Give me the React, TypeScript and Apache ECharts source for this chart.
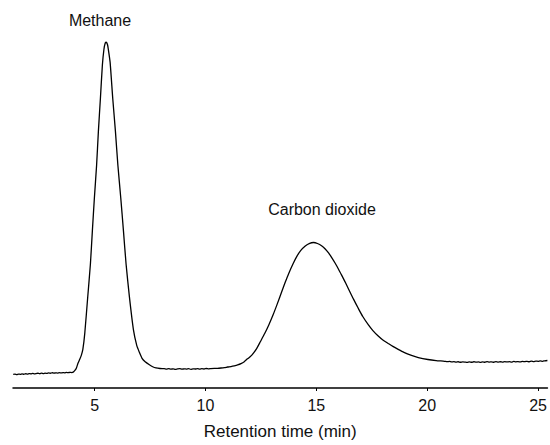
import React, { useEffect, useRef } from "react";
import * as echarts from "echarts";

// Retention time (min) and detector signal (arbitrary units)
const retentionTime: number[] = [
  1.33, 1.41, 1.49, 1.57, 1.65, 1.73, 1.81, 1.89, 1.97, 2.05, 2.13, 2.21, 2.29, 2.37, 2.45, 2.53, 2.61, 2.69,
  2.77, 2.85, 2.93, 3.01, 3.09, 3.17, 3.25, 3.33, 3.41, 3.49, 3.57, 3.65, 3.73, 3.81, 3.89, 3.97, 4.05,
  4.12, 4.18, 4.25, 4.33, 4.4, 4.47, 4.56, 4.69, 4.81, 4.9, 4.99, 5.09, 5.17, 5.26, 5.35, 5.42, 5.48, 5.53, 5.58,
  5.62, 5.7, 5.82, 5.94, 6.05, 6.18, 6.3, 6.42, 6.57, 6.75, 6.9, 7.02, 7.14, 7.28, 7.47, 7.62, 7.77, 7.95, 8.14,
  8.24, 8.34, 8.44, 8.54, 8.64, 8.74, 8.84, 8.94, 9.04, 9.14, 9.24, 9.34, 9.44, 9.54, 9.64, 9.74, 9.84, 9.94,
  10.04, 10.14, 10.24, 10.4, 10.55, 10.7, 10.85, 11.0,
  11.15, 11.3, 11.45, 11.6, 11.75, 11.88, 12.0, 12.11, 12.3, 12.48, 12.67, 12.86, 13.05, 13.23, 13.45, 13.6, 13.75,
  13.95, 14.12, 14.3, 14.5, 14.7, 14.87, 15.05, 15.25, 15.4, 15.55, 15.7, 15.85, 16.0, 16.14, 16.3, 16.45, 16.67,
  16.89, 17.1, 17.34, 17.55, 17.79, 18.0, 18.24, 18.45, 18.69, 18.95, 19.29, 19.6, 20.03, 20.4, 20.78, 20.9, 21.0,
  21.1, 21.2, 21.3, 21.4, 21.5, 21.6, 21.7, 21.8, 21.9, 22.0, 22.1, 22.2, 22.3, 22.4, 22.5, 22.6, 22.7, 22.8,
  22.9, 23.0, 23.1, 23.2, 23.3, 23.4, 23.5, 23.6, 23.7, 23.8, 23.9, 24.0, 24.1, 24.2, 24.3, 24.4, 24.5, 24.6,
  24.7, 24.8, 24.9, 25.0, 25.1, 25.2, 25.3, 25.42,
];

const detectorSignal: number[] = [
  1.37, 1.4, 1.35, 1.41, 1.38, 1.43, 1.39, 1.44, 1.4, 1.46, 1.42, 1.47, 1.43, 1.46, 1.49, 1.44, 1.5, 1.46,
  1.51, 1.47, 1.52, 1.49, 1.54, 1.5, 1.53, 1.51, 1.55, 1.52, 1.56, 1.53, 1.57, 1.55, 1.58, 1.56, 1.63,
  1.8, 2.03, 2.5, 2.9, 3.3, 3.9, 5.6, 9.2, 12.5, 15.9, 19.2, 22.5, 25.9, 29.2, 32.6, 34.2, 34.85, 34.93, 34.7,
  34.2, 32.9, 29.2, 25.9, 22.5, 19.2, 15.9, 12.5, 9.2, 5.9, 4.3, 3.6, 3.0, 2.65, 2.35, 2.15, 2.03, 1.97, 1.95,
  1.91, 1.95, 1.9, 1.94, 1.89, 1.93, 1.96, 1.9, 1.94, 1.91, 1.95, 1.89, 1.94, 1.92, 1.96, 1.9, 1.95, 1.92,
  1.97, 1.93, 1.96, 1.98, 1.99, 2.02, 2.06, 2.12,
  2.17, 2.24, 2.33, 2.46, 2.66, 2.92, 3.13, 3.37, 3.95, 4.7, 5.5, 6.4, 7.4, 8.45, 9.8, 10.7, 11.55,
  12.55, 13.3, 13.9, 14.35, 14.62, 14.7, 14.6, 14.35, 14.05, 13.65, 13.15, 12.6, 12.0, 11.4, 10.7, 10.0, 9.0,
  8.05, 7.2, 6.4, 5.8, 5.25, 4.85, 4.5, 4.2, 3.9, 3.6, 3.3, 3.08, 2.88, 2.77, 2.7, 2.66, 2.69,
  2.63, 2.67, 2.61, 2.65, 2.6, 2.64, 2.62, 2.59, 2.64, 2.6, 2.65, 2.61, 2.63, 2.59, 2.64, 2.6, 2.66, 2.62,
  2.64, 2.6, 2.66, 2.62, 2.65, 2.61, 2.67, 2.63, 2.66, 2.62, 2.68, 2.64, 2.67, 2.63, 2.69, 2.66, 2.7, 2.65,
  2.71, 2.67, 2.72, 2.69, 2.74, 2.7, 2.75, 2.78,
];

const xTickValues: number[] = [5, 10, 15, 20, 25];
const peakNames: string[] = ["Methane", "Carbon dioxide"];
const xAxisTitle = "Retention time (min)";

const FONT = "'Liberation Sans', Arial, Helvetica, sans-serif";

export default function App() {
  const ref = useRef<HTMLDivElement>(null);

  useEffect(() => {
    if (!ref.current) return;
    const chart = echarts.init(ref.current, undefined, { renderer: "svg" });
    const data = retentionTime.map((t, i) => [t, detectorSignal[i]]);
    chart.setOption({
      animation: false,
      backgroundColor: "#ffffff",
      grid: { left: 13, right: 0, top: 0, bottom: 53, containLabel: false },
      xAxis: {
        type: "value",
        min: 1.32,
        max: 25.42,
        name: xAxisTitle,
        nameLocation: "middle",
        nameGap: 35,
        nameTextStyle: { fontFamily: FONT, fontSize: 17, color: "#111" },
        axisLine: { show: true, lineStyle: { color: "#000", width: 1.5 } },
        axisTick: { show: true, length: 3, customValues: xTickValues, lineStyle: { color: "#000", width: 1 } },
        axisLabel: {
          show: true,
          margin: 9,
          customValues: xTickValues,
          fontFamily: FONT,
          fontSize: 16,
          color: "#111",
        },
        splitLine: { show: false },
      },
      yAxis: {
        type: "value",
        min: 0,
        max: 39.2,
        show: false,
      },
      series: [
        {
          type: "line",
          data,
          showSymbol: false,
          symbol: "none",
          smooth: 0.2,
          lineStyle: { color: "#000", width: 1.3 },
        },
      ],
      graphic: [
        {
          type: "text",
          x: 100,
          y: 20,
          style: {
            text: peakNames[0],
            fontFamily: FONT,
            fontSize: 16,
            fill: "#111",
            align: "center",
            verticalAlign: "middle",
          },
        },
        {
          type: "text",
          x: 322,
          y: 209,
          style: {
            text: peakNames[1],
            fontFamily: FONT,
            fontSize: 16,
            fill: "#111",
            align: "center",
            verticalAlign: "middle",
          },
        },
      ],
    });
    return () => chart.dispose();
  }, []);

  return (
    <div
      ref={ref}
      style={{ position: "absolute", left: 0, top: 0, width: 550, height: 445 }}
    />
  );
}
